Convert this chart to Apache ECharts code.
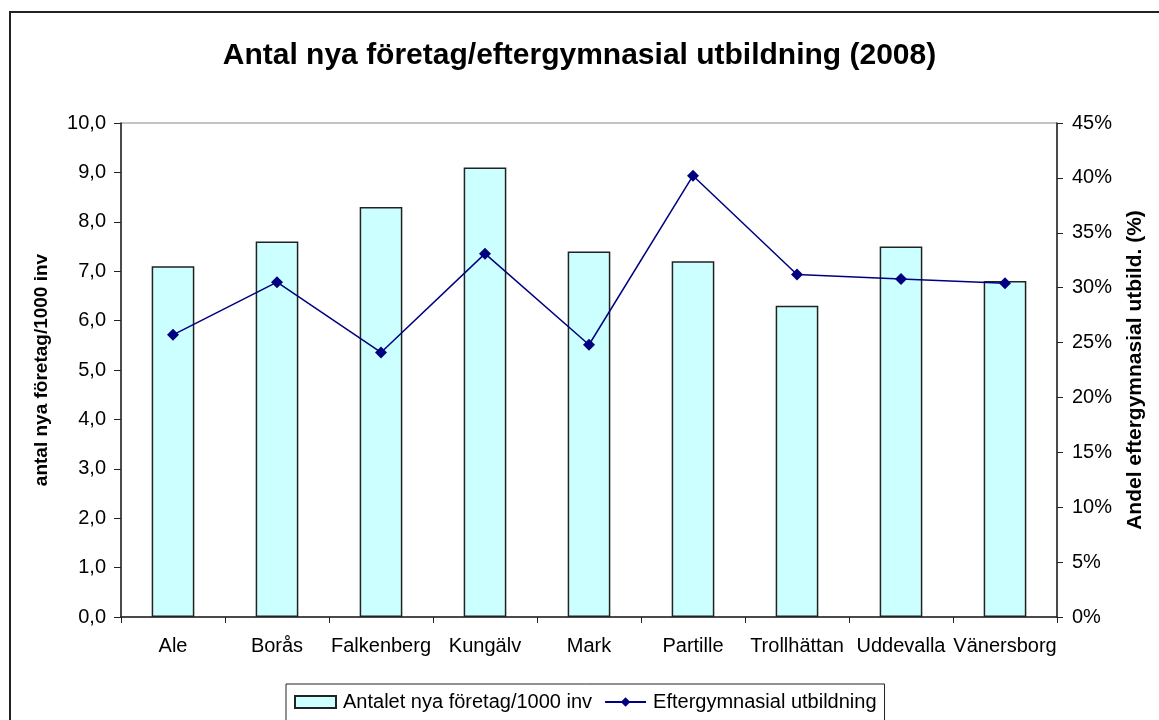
<!DOCTYPE html>
<html>
<head>
<meta charset="utf-8">
<script src="https://cdn.jsdelivr.net/npm/echarts@6/dist/echarts.min.js"></script>
<style>
    html, body { margin: 0; padding: 0; background: #fff; }
    #chart { width: 1159px; height: 720px; }
</style>
</head>
<body>
<div id="chart"></div>
<script>
const kommuner = ['Ale', 'Borås', 'Falkenberg', 'Kungälv', 'Mark', 'Partille', 'Trollhättan', 'Uddevalla', 'Vänersborg'];
const nyaForetag = [7.1, 7.6, 8.3, 9.1, 7.4, 7.2, 6.3, 7.5, 6.8];
const eftergymnasial = [25.7, 30.5, 24.1, 33.1, 24.8, 40.2, 31.2, 30.8, 30.4];

const chart = echarts.init(document.getElementById('chart'));
const font = 'Liberation Sans, Arial, sans-serif';

const option = {
    backgroundColor: '#fff',
    animation: false,
    title: {
        text: 'Antal nya företag/eftergymnasial utbildning (2008)',
        left: 'center',
        top: 36,
        textStyle: { fontFamily: font, fontSize: 30, fontWeight: 'bold', color: '#000' }
    },
    graphic: [{
        type: 'rect',
        shape: { x: 10, y: 12, width: 1200, height: 800 },
        style: { fill: 'none', stroke: '#222', lineWidth: 2 },
        z: -1
    }],
    legend: {
        top: 684,
        left: 286,
        padding: [8, 8, 14, 8],
        borderColor: '#222',
        borderWidth: 1,
        itemWidth: 41,
        itemHeight: 12,
        itemGap: 12,
        textStyle: { fontFamily: font, fontSize: 20, color: '#000', padding: [0, 0, 0, 2] },
        data: [
            { name: 'Antalet nya företag/1000 inv', icon: 'rect' },
            { name: 'Eftergymnasial utbildning' }
        ]
    },
    grid: {
        left: 121, right: 102, top: 123, bottom: 103,
        show: true, borderColor: '#888', borderWidth: 1
    },
    xAxis: {
        type: 'category',
        data: kommuner,
        axisLine: { lineStyle: { color: '#222', width: 1.5 } },
        axisTick: { show: true, length: 6, lineStyle: { color: '#222' } },
        axisLabel: { fontFamily: font, fontSize: 20, color: '#000', margin: 19, interval: 0 }
    },
    yAxis: [{
        type: 'value',
        min: 0, max: 10, interval: 1,
        name: 'antal nya företag/1000 inv',
        nameLocation: 'middle',
        nameRotate: 90,
        nameGap: 70,
        nameTextStyle: { fontFamily: font, fontSize: 19, fontWeight: 'bold', color: '#000' },
        axisLine: { show: true, lineStyle: { color: '#222', width: 1.5 } },
        axisTick: { show: true, length: 7, lineStyle: { color: '#222' } },
        axisLabel: {
            fontFamily: font, fontSize: 20, color: '#000', margin: 15,
            formatter: v => v.toFixed(1).replace('.', ',')
        },
        splitLine: { show: false }
    }, {
        type: 'value',
        min: 0, max: 45, interval: 5,
        position: 'right',
        name: 'Andel eftergymnasial utbild. (%)',
        nameLocation: 'middle',
        nameRotate: 90,
        nameGap: 68,
        nameTextStyle: { fontFamily: font, fontSize: 21, fontWeight: 'bold', color: '#000' },
        axisLine: { show: true, lineStyle: { color: '#222', width: 1.5 } },
        axisTick: { show: true, length: 6, lineStyle: { color: '#222' } },
        axisLabel: { fontFamily: font, fontSize: 20, color: '#000', margin: 15, formatter: '{value}%' },
        splitLine: { show: false }
    }],
    series: [{
        name: 'Antalet nya företag/1000 inv',
        type: 'bar',
        data: nyaForetag,
        barWidth: '41%',
        itemStyle: { color: '#CCFFFF', borderColor: '#222', borderWidth: 1.5 }
    }, {
        name: 'Eftergymnasial utbildning',
        type: 'line',
        yAxisIndex: 1,
        data: eftergymnasial,
        symbol: 'diamond',
        symbolSize: 12,
        lineStyle: { color: '#000080', width: 1.5 },
        itemStyle: { color: '#000080' }
    }]
};

chart.setOption(option);
</script>
</body>
</html>
